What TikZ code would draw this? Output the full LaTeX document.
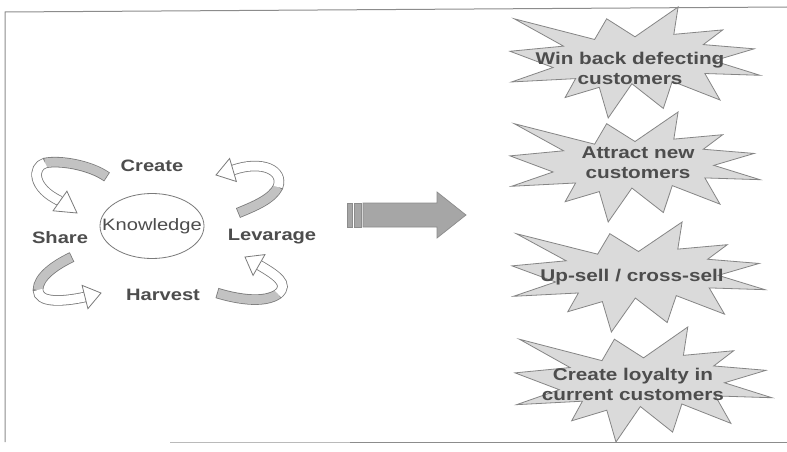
\documentclass[tikz,border=0pt]{standalone}
\usepackage{fontspec}
\setmainfont{Liberation Sans}
\newfontfamily\widefont[FakeStretch=1.22]{Liberation Sans}
\usetikzlibrary{calc,shapes.geometric}
\definecolor{txt}{HTML}{4D4D4D}
\definecolor{starfill}{HTML}{DADADA}
\definecolor{starline}{HTML}{858585}
\definecolor{bandline}{HTML}{7A7A7A}
\definecolor{bandgray}{HTML}{C2C2C2}
\definecolor{bigfill}{HTML}{A6A6A6}
\definecolor{frameline}{HTML}{8C8C8C}
\tikzset{
  starstyle/.style={fill=starfill, draw=starline, line width=0.8pt, line join=miter},
  lab/.style={font=\widefont\fontsize{16.5}{19}\selectfont\bfseries, text=txt, inner sep=0pt},
  starlab/.style={font=\widefont\fontsize{17}{20}\selectfont\bfseries, text=txt, align=center, inner sep=0pt},
  ellst/.style={ellipse, draw=bandline, line width=0.8pt, fill=white, minimum width=104pt, minimum height=65pt, inner sep=0pt},
  elltext/.style={font=\widefont\fontsize{16.5}{19}\selectfont, text=txt, inner sep=0pt},
  bandout/.style={line width=10.5pt, draw=bandline},
  bandg/.style={line width=8.9pt, draw=bandgray},
  bandw/.style={line width=8.9pt, draw=white},
  headst/.style={fill=white, draw=bandline, line width=0.8pt, line join=miter},
  bigarr/.style={fill=bigfill, draw=frameline, line width=0.7pt},
  framest/.style={draw=frameline, line width=1pt}
}
\newcommand\burst[3]{%
  \begin{scope}[shift={(#1,#2)}, xscale=#3]
    \draw[starstyle] (50,26.85) -- (67.23,0) -- (65.53,24.65) -- (85.09,20.63) -- (77.32,33.87)
      -- (97.67,37.67) -- (81.51,48.50) -- (100,61.53) -- (77.95,59.92) -- (84.00,83.77)
      -- (64.91,66.93) -- (61.33,91.38) -- (48.76,69.14) -- (39.28,100) -- (35.72,72.35)
      -- (22.05,81.56) -- (26.24,64.52) -- (0.63,67.53) -- (17.23,54.51) -- (0,39.88)
      -- (21.42,35.26) -- (1.71,10.63) -- (33.85,29.26) -- (38.67,10.63) -- cycle;
  \end{scope}}
\newcommand\ahead[2]{\draw[headst] (#2) -- ($(#1)!12pt!90:(#2)$) -- ($(#1)!12pt!-90:(#2)$) -- cycle;}
\begin{document}
\begin{tikzpicture}[x=1pt, y=-1pt]
\useasboundingbox (0,0) rectangle (787,452);
\fill[white] (0,0) rectangle (787,452);
% frame
\draw[framest] (787,7) -- (5,12) -- (5,442);
\draw[framest, draw=frameline!60] (170,442) -- (350,442);
\draw[framest] (350,442) -- (787,442);

% starbursts
\burst{510}{7}{2.5,yscale=1.11}
\burst{510}{112}{2.5,yscale=1.10}
\burst{512}{222}{2.53,yscale=1.10}
\burst{515}{327}{2.57,yscale=1.15}
\node[starlab] (s1) at (630,68) {Win back defecting\\customers};
\node[starlab] (s2) at (638,163) {Attract new\\customers};
\node[starlab] (s3) at (632,277) {Up-sell / cross-sell};
\node[starlab] (s4) at (633,384) {Create loyalty in\\current customers};

% cycle
\node[ellst] (kell) at (152,226) {};
\node[elltext] (know) at (152,226) {Knowledge};
\node[lab] (create) at (152,166) {Create};
\node[lab] (share) at (60,238) {Share};
\node[lab] (lev) at (272,237) {Levarage};
\node[lab] (harv) at (163,295) {Harvest};

% arrow 1: Create -> Share
\coordinate (a1s) at (107,177);
\coordinate (a1m) at (45,163);
\coordinate (a1e) at (60,201);
\coordinate (a1t) at (77,213);
\draw[bandout] (a1s) .. controls (90,165) and (60,160) .. (a1m) .. controls (32,167) and (32,188) .. (a1e);
\draw[bandg, shorten <=0.8pt] (a1s) .. controls (90,165) and (60,160) .. (a1m);
\draw[bandw] (a1m) .. controls (32,167) and (32,188) .. (a1e);
\ahead{a1e}{a1t}

% arrow 2: Levarage -> Create
\coordinate (a2s) at (238,213);
\coordinate (a2m) at (278,187);
\coordinate (a2e) at (233,170);
\coordinate (a2t) at (216,175);
\draw[bandout] (a2s) .. controls (255,206) and (272,199) .. (a2m) .. controls (284,170) and (262,160) .. (a2e);
\draw[bandg, shorten <=0.8pt] (a2s) .. controls (255,206) and (272,199) .. (a2m);
\draw[bandw] (a2m) .. controls (284,170) and (262,160) .. (a2e);
\ahead{a2e}{a2t}

% arrow 3: Share -> Harvest
\coordinate (a3s) at (72,257);
\coordinate (a3m) at (38,290);
\coordinate (a3e) at (85,297);
\coordinate (a3t) at (101,293);
\draw[bandout] (a3s) .. controls (55,265) and (38,277) .. (a3m) .. controls (38,303) and (62,302) .. (a3e);
\draw[bandg, shorten <=0.8pt] (a3s) .. controls (55,265) and (38,277) .. (a3m);
\draw[bandw] (a3m) .. controls (38,303) and (62,302) .. (a3e);
\ahead{a3e}{a3t}

% arrow 4: Harvest -> Levarage
\coordinate (a4s) at (217,293);
\coordinate (a4m) at (278,294);
\coordinate (a4e) at (259,265);
\coordinate (a4t) at (245,257);
\draw[bandout] (a4s) .. controls (240,300) and (265,303) .. (a4m) .. controls (290,284) and (276,275) .. (a4e);
\draw[bandg, shorten <=0.8pt] (a4s) .. controls (240,300) and (265,303) .. (a4m);
\draw[bandw] (a4m) .. controls (290,284) and (276,275) .. (a4e);
\ahead{a4e}{a4t}

% big arrow
\coordinate (b1) at (363,203);
\coordinate (b2) at (437,192);
\coordinate (b3) at (466,215);
\coordinate (b4) at (437,238);
\coordinate (b5) at (363,227);
\draw[bigarr] (b1) -- (437,203) -- (b2) -- (b3) -- (b4) -- (437,227) -- (b5) -- cycle;
\draw[bigarr] (347,203) rectangle (352,227);
\draw[bigarr] (354,203) rectangle (361,227);
\end{tikzpicture}
\end{document}
